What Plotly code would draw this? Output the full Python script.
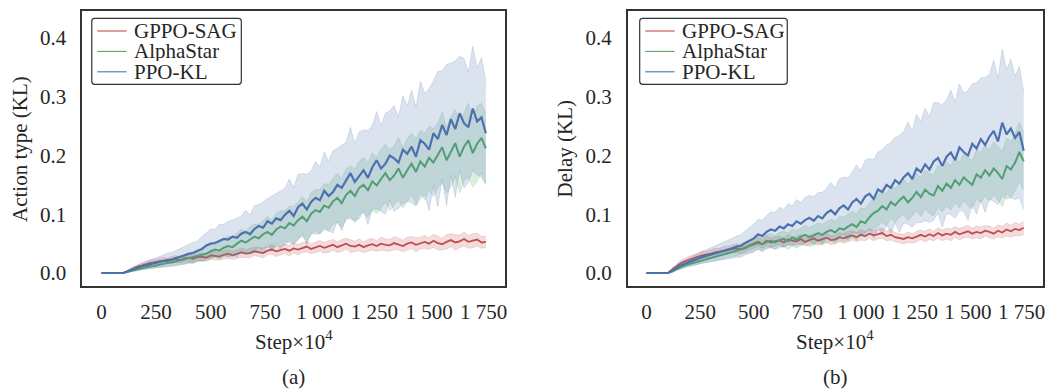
import numpy as np
import plotly.graph_objects as go

# ---------------- data (values in thousandths of KL) ----------------
STEPS = list(range(0, 1761, 20))  # Step x 10^4

methods = ["GPPO-SAG", "AlphaStar", "PPO-KL"]

# Panel (a): Action type (KL)
red_a_mean = [
    0, 0, 0, 0, 0, 0, 3, 7, 10, 12,
    15, 17, 18, 19, 21, 20, 22, 24, 22, 25,
    26, 24, 27, 28, 26, 30, 29, 28, 31, 33,
    30, 32, 35, 33, 34, 37, 36, 34, 38, 40,
    37, 39, 41, 38, 42, 40, 43, 45, 41, 44,
    46, 43, 45, 48, 44, 47, 50, 46, 45, 48,
    44, 47, 49, 46, 50, 48, 47, 51, 49, 46,
    50, 52, 48, 51, 53, 50, 55, 51, 49, 53,
    56, 52, 54, 58, 53, 55, 57, 52, 53]
red_a_sd = [
    0, 0, 0, 0, 0, 0, 2, 3, 3, 4,
    4, 5, 5, 5, 6, 5, 6, 6, 5, 6,
    7, 6, 6, 7, 6, 7, 7, 6, 7, 8,
    7, 7, 8, 7, 8, 7, 8, 8, 7, 8,
    9, 8, 8, 9, 8, 9, 8, 9, 8, 9,
    9, 9, 10, 9, 9, 10, 9, 11, 9, 10,
    9, 10, 10, 9, 11, 10, 10, 11, 10, 10,
    11, 10, 12, 10, 11, 10, 11, 12, 10, 12,
    11, 13, 11, 12, 11, 12, 11, 10, 10]
green_a_mean = [
    0, 0, 0, 0, 0, 0, 2, 4, 6, 8,
    9, 11, 12, 14, 15, 17, 18, 20, 21, 23,
    25, 27, 29, 32, 33, 37, 40, 38, 43, 46,
    44, 50, 55, 52, 57, 62, 59, 66, 70, 65,
    74, 79, 76, 85, 81, 90, 96, 88, 101, 107,
    104, 115, 111, 122, 128, 119, 133, 140, 131, 145,
    150, 141, 156, 149, 160, 170, 158, 166, 178, 162,
    175, 186, 172, 190, 181, 196, 188, 200, 214, 192,
    206, 221, 198, 215, 226, 204, 220, 230, 212]
green_a_sd = [
    0, 0, 0, 0, 0, 0, 1, 2, 2, 3,
    3, 4, 4, 5, 5, 6, 6, 7, 7, 8,
    9, 9, 10, 11, 12, 13, 13, 15, 15, 17,
    17, 18, 20, 19, 22, 21, 24, 23, 26, 25,
    28, 27, 30, 29, 32, 31, 34, 33, 36, 35,
    38, 37, 40, 39, 42, 41, 44, 43, 46, 45,
    47, 46, 49, 48, 50, 49, 52, 50, 53, 51,
    54, 52, 56, 53, 57, 54, 58, 55, 60, 56,
    60, 57, 62, 58, 63, 58, 64, 59, 60]
blue_a_mean = [
    0, 0, 0, 0, 0, 0, 3, 6, 9, 11,
    13, 15, 17, 19, 20, 22, 23, 25, 27, 30,
    33, 34, 38, 41, 47, 50, 51, 55, 58, 57,
    62, 60, 67, 70, 66, 75, 80, 77, 88, 84,
    93, 90, 99, 106, 97, 112, 118, 108, 121, 128,
    124, 140, 131, 138, 150, 145, 158, 170, 155, 166,
    175, 162, 180, 192, 178, 186, 200, 195, 188, 210,
    203, 215, 198, 226, 220, 210, 238, 228, 252, 235,
    262, 245, 272, 255, 248, 280, 258, 265, 238]
blue_a_sd = [
    0, 0, 0, 0, 0, 0, 2, 3, 4, 5,
    6, 7, 8, 9, 10, 11, 12, 13, 14, 15,
    16, 18, 17, 21, 22, 25, 23, 28, 25, 31,
    28, 34, 30, 37, 33, 40, 36, 44, 39, 47,
    42, 50, 45, 54, 48, 56, 51, 60, 53, 62,
    57, 66, 59, 70, 62, 73, 64, 78, 66, 74,
    69, 80, 71, 83, 73, 86, 76, 90, 78, 92,
    81, 96, 84, 100, 86, 104, 89, 115, 92, 120,
    95, 116, 97, 110, 94, 106, 91, 102, 88]

# Panel (b): Delay (KL)
red_b_mean = [
    0, 0, 0, 0, 0, 0, 6, 12, 17, 20,
    23, 25, 28, 30, 31, 33, 35, 36, 38, 39,
    41, 42, 40, 44, 47, 50, 53, 49, 55, 52,
    54, 56, 52, 57, 55, 54, 58, 53, 56, 59,
    55, 58, 60, 56, 57, 61, 59, 62, 64, 61,
    65, 63, 67, 64, 66, 68, 63, 65, 61, 59,
    58, 61, 59, 62, 65, 62, 66, 63, 68, 64,
    67, 65, 70, 66, 69, 71, 67, 70, 68, 72,
    70, 67, 72, 69, 74, 71, 75, 73, 77]
red_b_sd = [
    0, 0, 0, 0, 0, 0, 3, 4, 5, 5,
    6, 6, 6, 7, 6, 7, 7, 6, 7, 7,
    7, 8, 7, 8, 7, 8, 8, 7, 8, 8,
    8, 7, 8, 8, 7, 8, 8, 7, 8, 8,
    8, 7, 8, 8, 7, 8, 8, 9, 8, 8,
    9, 8, 8, 9, 8, 9, 8, 9, 8, 8,
    8, 9, 8, 9, 8, 9, 9, 8, 9, 9,
    9, 10, 9, 10, 9, 10, 9, 10, 10, 9,
    10, 9, 10, 10, 11, 10, 11, 10, 11]
green_b_mean = [
    0, 0, 0, 0, 0, 0, 3, 7, 10, 13,
    15, 17, 20, 22, 24, 26, 28, 30, 32, 34,
    36, 38, 41, 42, 46, 48, 51, 49, 53, 55,
    52, 56, 58, 54, 60, 57, 62, 65, 61, 64,
    68, 65, 70, 73, 69, 76, 74, 79, 83, 78,
    88, 85, 95, 102, 106, 114, 108, 121, 115, 124,
    130, 120, 128, 138, 129, 142, 135, 132, 148, 140,
    152, 145, 158, 150, 163, 156, 150, 168, 162, 175,
    166, 178, 170, 160, 182, 176, 188, 206, 190]
green_b_sd = [
    0, 0, 0, 0, 0, 0, 2, 3, 3, 4,
    4, 5, 5, 6, 6, 7, 7, 7, 8, 8,
    8, 9, 9, 9, 10, 10, 11, 11, 12, 12,
    12, 13, 13, 14, 14, 15, 15, 16, 16, 17,
    17, 18, 18, 19, 19, 20, 21, 21, 22, 23,
    23, 24, 25, 25, 26, 27, 27, 28, 29, 29,
    30, 31, 31, 32, 33, 33, 34, 35, 36, 36,
    37, 38, 38, 39, 40, 41, 41, 42, 43, 44,
    44, 45, 46, 47, 47, 48, 49, 50, 50]
blue_b_mean = [
    0, 0, 0, 0, 0, 0, 4, 9, 13, 16,
    19, 21, 24, 27, 29, 31, 33, 35, 37, 39,
    42, 45, 46, 51, 55, 59, 66, 63, 70, 74,
    72, 79, 76, 83, 80, 88, 84, 90, 94, 89,
    97, 93, 102, 107, 100, 110, 115, 108, 120, 126,
    118, 130, 135, 126, 142, 138, 150, 145, 158, 152,
    163, 170, 160, 178, 172, 185, 176, 190, 196, 182,
    198, 205, 192, 214, 206, 200, 220, 212, 228, 218,
    232, 242, 224, 256, 236, 246, 230, 240, 208]
blue_b_sd = [
    0, 0, 0, 0, 0, 0, 3, 4, 5, 6,
    7, 8, 9, 10, 11, 12, 13, 14, 15, 16,
    17, 18, 19, 20, 22, 24, 25, 27, 28, 30,
    31, 33, 32, 35, 34, 37, 36, 39, 38, 41,
    40, 44, 42, 47, 45, 50, 48, 54, 52, 58,
    56, 62, 60, 67, 64, 72, 68, 77, 73, 82,
    78, 87, 82, 92, 86, 96, 90, 100, 94, 104,
    97, 106, 99, 108, 101, 110, 102, 112, 104, 115,
    106, 120, 108, 125, 110, 118, 105, 112, 100]

x_tick_vals = [0, 250, 500, 750, 1000, 1250, 1500, 1750]
x_tick_text = ["0", "250", "500", "750", "1 000", "1 250", "1 500", "1 750"]
y_tick_vals = [0.0, 0.1, 0.2, 0.3, 0.4]
y_titles = ["Action type (KL)", "Delay (KL)"]
panel_labels = ["(a)", "(b)"]

# ---------------- style ----------------
OFF = 8  # page body margin of the browser
W, H = 1061 - OFF, 390 - OFF
FONT = "Liberation Serif"
FS = 21
TXT = "#262626"
COLORS = ["rgb(196,78,82)", "rgb(85,168,104)", "rgb(76,114,176)"]
BANDS = ["rgba(196,78,82,0.2)", "rgba(85,168,104,0.2)", "rgba(76,114,176,0.2)"]
LINE_W = [1.8, 2.0, 2.2]

def px(x):
    return (x - OFF) / W

def py(y):
    return 1 - (y - OFF) / H

fig = go.Figure()

panels = [
    [(red_a_mean, red_a_sd), (green_a_mean, green_a_sd), (blue_a_mean, blue_a_sd)],
    [(red_b_mean, red_b_sd), (green_b_mean, green_b_sd), (blue_b_mean, blue_b_sd)],
]
axes = [("x", "y"), ("x2", "y2")]

x = np.array(STEPS)
for p, series in enumerate(panels):
    xa, ya = axes[p]
    for k, (m, s) in enumerate(series):
        m = np.array(m) / 1000.0
        s = np.array(s) / 1000.0
        fig.add_trace(go.Scatter(x=x, y=m, mode="lines", name=methods[k],
                                 line=dict(color=COLORS[k], width=LINE_W[k]),
                                 xaxis=xa, yaxis=ya, showlegend=False))
        fig.add_trace(go.Scatter(x=x, y=m - s, mode="lines",
                                 line=dict(color=BANDS[k], width=0.9),
                                 xaxis=xa, yaxis=ya, showlegend=False, hoverinfo="skip"))
        fig.add_trace(go.Scatter(x=x, y=m + s, mode="lines", fill="tonexty",
                                 fillcolor=BANDS[k],
                                 line=dict(color=BANDS[k], width=0.9),
                                 xaxis=xa, yaxis=ya, showlegend=False, hoverinfo="skip"))

# plot area pixel boxes (window pixels)
boxes = [(82.5, 506.5), (629.5, 1045.5)]
top_px, bot_px = 10.7, 285.7

axis_common = dict(showgrid=False, zeroline=False, showline=True, mirror=True,
                   linecolor="#333333", linewidth=1.5,
                   tickfont=dict(family=FONT, size=FS, color=TXT),
                   ticks="outside", tickcolor="rgba(0,0,0,0)")

layout = dict(width=W, height=H, margin=dict(l=0, r=0, t=0, b=0),
              paper_bgcolor="white", plot_bgcolor="white", showlegend=False)
for p in range(2):
    l, r = boxes[p]
    xkey = "xaxis" if p == 0 else "xaxis2"
    ykey = "yaxis" if p == 0 else "yaxis2"
    layout[xkey] = dict(axis_common, domain=[px(l), px(r)], range=[-88, 1848],
                        tickvals=x_tick_vals, ticktext=x_tick_text, ticklen=6,
                        anchor="y" if p == 0 else "y2")
    layout[ykey] = dict(axis_common, domain=[py(bot_px), py(top_px)],
                        range=[-0.0216, 0.4465], tickvals=y_tick_vals,
                        tickformat=".1f", ticklen=10,
                        anchor="x" if p == 0 else "x2")
fig.update_layout(**layout)

annotations = []
shapes = []
centers = [(boxes[0][0] + boxes[0][1]) / 2, (boxes[1][0] + boxes[1][1]) / 2]
ytitle_x = [20, 567]
legend_left = [92, 641.5]
for p in range(2):
    annotations.append(dict(x=px(centers[p]), y=py(340), xref="paper", yref="paper",
                            text="Step×10<sup>4</sup>", showarrow=False,
                            font=dict(family=FONT, size=FS, color=TXT),
                            xanchor="center", yanchor="middle"))
    annotations.append(dict(x=px(centers[p]), y=py(377), xref="paper", yref="paper",
                            text=panel_labels[p], showarrow=False,
                            font=dict(family=FONT, size=FS, color=TXT),
                            xanchor="center", yanchor="middle"))
    annotations.append(dict(x=px(ytitle_x[p]), y=py(149), xref="paper", yref="paper",
                            text=y_titles[p], showarrow=False, textangle=-90,
                            font=dict(family=FONT, size=FS, color=TXT),
                            xanchor="center", yanchor="middle"))
    # legend
    L = legend_left[p]
    R = L + 150 if p == 0 else L + 148
    T, B = 18.3, 84.3
    rr = 3
    path = (f"M {px(L+rr)},{py(T)} L {px(R-rr)},{py(T)} Q {px(R)},{py(T)} {px(R)},{py(T+rr)} "
            f"L {px(R)},{py(B-rr)} Q {px(R)},{py(B)} {px(R-rr)},{py(B)} "
            f"L {px(L+rr)},{py(B)} Q {px(L)},{py(B)} {px(L)},{py(B-rr)} "
            f"L {px(L)},{py(T+rr)} Q {px(L)},{py(T)} {px(L+rr)},{py(T)} Z")
    shapes.append(dict(type="path", path=path, xref="paper", yref="paper",
                       line=dict(color="#333333", width=1.2), fillcolor="rgba(255,255,255,0.8)"))
    for k in range(3):
        yy = 31 + k * 20.4
        shapes.append(dict(type="line", xref="paper", yref="paper",
                           x0=px(L + 5.5), x1=px(L + 35), y0=py(yy), y1=py(yy),
                           line=dict(color=COLORS[k], width=1.1)))
        annotations.append(dict(x=px(L + 40.5), y=py(yy), xref="paper", yref="paper",
                                text=methods[k], showarrow=False, height=20,
                                font=dict(family=FONT, size=FS, color=TXT),
                                xanchor="left", yanchor="middle"))

fig.update_layout(annotations=annotations, shapes=shapes)
fig.write_html("out.html")
